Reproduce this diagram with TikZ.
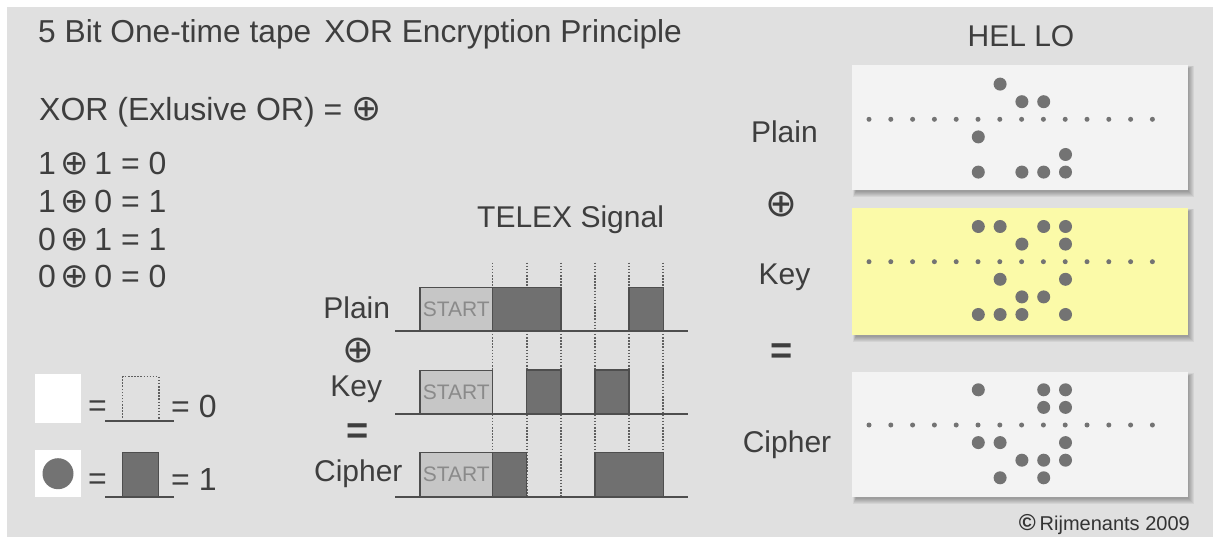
\documentclass[tikz,border=0pt]{standalone}
\usepackage{fontspec}
\setmainfont{Liberation Sans}
\newfontfamily\symfont{DejaVu Sans}

\definecolor{panelgray}{RGB}{224,224,224}
\definecolor{inkgray}{RGB}{62,62,62}
\definecolor{holegray}{RGB}{115,115,115}
\definecolor{tapewhite}{RGB}{243,243,243}
\definecolor{tapeyellow}{RGB}{251,250,168}
\definecolor{pulsedark}{RGB}{112,112,112}
\definecolor{pulseedge}{RGB}{78,78,78}
\definecolor{startfill}{RGB}{198,198,198}
\definecolor{starttext}{RGB}{138,138,138}
\definecolor{dotline}{RGB}{95,95,95}

\begin{document}
\begin{tikzpicture}[x=1pt,y=-1pt,
  lbl/.style={inner sep=0, text=inkgray, font=\fontsize{30}{36}\selectfont},
  big/.style={inner sep=0, text=inkgray, font=\fontsize{32}{38}\selectfont},
  eqsign/.style={inner sep=0, text=inkgray, font=\bfseries\fontsize{38}{44}\selectfont},
  xorsign/.style={inner sep=0, text=inkgray, font=\symfont\fontsize{38}{44}\selectfont},
  tape/.style={rectangle, inner sep=0, minimum width=336, minimum height=125},
  feedhole/.style={fill=holegray},
  datahole/.style={fill=holegray},
  startbox/.style={rectangle, inner sep=0, minimum width=72.7, minimum height=43.7,
    fill=startfill, draw=pulseedge, line width=1.2, text=starttext,
    font=\fontsize{21}{24}\selectfont},
  pulse/.style={fill=pulsedark, draw=pulseedge, line width=1.3},
  signalline/.style={draw=pulseedge, line width=2},
  slotline/.style={draw=dotline, line width=1.5, dash pattern=on 1.5pt off 1.6pt},
  softshadow/.style={fill=black, opacity=0.055}
]
\useasboundingbox (0,0) rectangle (1213,537);
\fill[white] (0,0) rectangle (1213,537);
\fill[panelgray] (7,7) rectangle (1213,537);

% ---------- headings and XOR truth table ----------
\node[big, anchor=base west, font=\fontsize{31.7}{38}\selectfont] (title) at (38,43)
  {5 Bit One-time tape\hspace{13pt}XOR Encryption Principle};
\node[big, anchor=base west] (xordef) at (39,121)
  {XOR (Exlusive OR) = {\symfont\fontsize{36}{40}\selectfont ⊕}};
\node[big, anchor=base west] (row1) at (38,175)   {1\hspace{5pt}{\symfont\fontsize{34}{38}\selectfont ⊕}\hspace{5pt}1 = 0};
\node[big, anchor=base west] (row2) at (38,212.7) {1\hspace{5pt}{\symfont\fontsize{34}{38}\selectfont ⊕}\hspace{5pt}0 = 1};
\node[big, anchor=base west] (row3) at (38,251)   {0\hspace{5pt}{\symfont\fontsize{34}{38}\selectfont ⊕}\hspace{5pt}1 = 1};
\node[big, anchor=base west] (row4) at (38,288)   {0\hspace{5pt}{\symfont\fontsize{34}{38}\selectfont ⊕}\hspace{5pt}0 = 0};

% ---------- legend: hole / pulse / bit ----------
\node[rectangle, fill=white, inner sep=0, minimum width=46, minimum height=49] (zerosq) at (58,398) {};
\node[rectangle, fill=white, inner sep=0, minimum width=46, minimum height=47] (onesq) at (58,473.7) {};
\fill[holegray] (onesq.center) circle (15.5);
\node[big, anchor=base west] (zeroeq) at (88,416) {=};
\node[big, anchor=base west] (onesym) at (88,489) {=};
\draw[slotline] (122.7,421) -- (122.7,376.7) -- (159,376.7) -- (159,421);
\draw[signalline] (105,421) -- (174,421);
\draw[pulse] (122.7,452.3) rectangle (158.3,496.7);
\draw[signalline] (105,496.7) -- (174,496.7);
\node[big, anchor=base west] (zeroval) at (171,417) {= 0};
\node[big, anchor=base west] (oneval) at (171,490) {= 1};

% ---------- telex signal ----------
\node[lbl, anchor=base west] (telex) at (477,228) {TELEX Signal};
\foreach \x in {492.7,526.8,560.9,595,629.1,663.2}
  \draw[slotline] (\x,262.7) -- (\x,496.7);

\node[lbl, anchor=base] (sigplain) at (356.7,318.3) {Plain};
\node[xorsign] (sigxor) at (358.3,351) {⊕};
\node[lbl, anchor=base] (sigkey) at (356.2,396.7) {Key};
\node[eqsign] (sigeq) at (358,433.3) {=};
\node[lbl, anchor=base] (sigcipher) at (358.3,481.7) {Cipher};

% plain: 1 1 0 0 1
\draw[pulse] (492.7,287.3) rectangle (560.9,331);
\draw[pulse] (629.1,287.3) rectangle (663.2,331);
\node[startbox] (pstart) at (456.35,309.15) {START};
\draw[signalline] (395,331) -- (688.3,331);
% key: 0 1 0 1 0
\draw[pulse] (526.8,370) rectangle (560.9,414);
\draw[pulse] (595,370) rectangle (629.1,414);
\node[startbox] (kstart) at (456.35,392) {START};
\draw[signalline] (395,414) -- (688.3,414);
% cipher: 1 0 0 1 1
\draw[pulse] (492.7,452.7) rectangle (526.8,496.7);
\draw[pulse] (595,452.7) rectangle (663.2,496.7);
\node[startbox] (cstart) at (456.35,474.7) {START};
\draw[signalline] (395,496.7) -- (688.3,496.7);

% ---------- punched tapes ----------
\node[lbl, anchor=base] (hello) at (1021,47) {HEL LO};
\node[lbl, anchor=base] (tplain) at (784.4,142.7) {Plain};
\node[xorsign] (txor) at (781.7,205) {⊕};
\node[lbl, anchor=base] (tkey) at (784.4,285) {Key};
\node[eqsign] (teq) at (782,353.3) {=};
\node[lbl, anchor=base] (tcipher) at (787,452.7) {Cipher};

\foreach \t/\b in {65/190,208/335,372/497}
  \foreach \s in {0,...,5}
    \fill[softshadow] ({853+0.5*\s},{\t+1+0.5*\s}) rectangle ({1194-\s},{\b+7-\s});

\node[tape, fill=tapewhite] (plaintape) at (1020,127.5) {};
\node[tape, fill=tapeyellow, minimum height=127] (keytape) at (1020,271.5) {};
\node[tape, fill=tapewhite] (ciphertape) at (1020,434.5) {};

% sprocket row
\foreach \y in {119.3,261.7,425}
  \foreach \i in {0,...,13}
    \fill[feedhole] (869+21.8*\i,\y) circle (2.5);

% HELLO
\foreach \c/\r in {0/1,0/3,1/-2,2/-1,2/3,3/-1,3/3,4/2,4/3}
  \fill[datahole] (978.3+21.8*\c,119.3+17.6*\r) circle (6.5);
% key
\foreach \c/\r in {0/-2,0/3,1/-2,1/1,1/3,2/-1,2/2,2/3,3/-2,3/2,4/-2,4/-1,4/1,4/3}
  \fill[datahole] (978.3+21.8*\c,261.7+17.6*\r) circle (6.5);
% cipher
\foreach \c/\r in {0/-2,0/1,1/1,1/3,2/2,3/-2,3/-1,3/2,3/3,4/-2,4/-1,4/1,4/2}
  \fill[datahole] (978.3+21.8*\c,425+17.6*\r) circle (6.5);

\node[inner sep=0, anchor=base east, text=black!80, font=\fontsize{20}{24}\selectfont]
  (credit) at (1190,530) {{\bfseries\fontsize{23}{24}\selectfont ©}\hspace{4pt}Rijmenants 2009};
\end{tikzpicture}
\end{document}
